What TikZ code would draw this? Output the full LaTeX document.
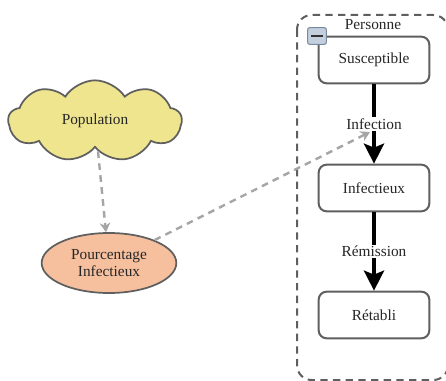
\documentclass[tikz,border=0pt]{standalone}
\usepackage{fontspec}
\setmainfont{Liberation Serif}
\usepackage{tikz}
\usetikzlibrary{arrows.meta}
\usetikzlibrary{shapes.geometric,shapes.symbols}
\usetikzlibrary{positioning,calc}

\definecolor{cloudfill}{RGB}{238,229,142}
\definecolor{pctfill}{RGB}{246,192,158}
\definecolor{edgegray}{RGB}{95,95,95}
\definecolor{linkgray}{RGB}{165,165,165}
\definecolor{iconfill}{RGB}{196,208,222}
\definecolor{iconedge}{RGB}{120,138,160}

\tikzset{
    txt/.style={font=\fontsize{11.5}{13.5}\selectfont, text=black!85},
    statebox/.style={txt, draw=edgegray, line width=1.5pt, rounded corners=6pt,
        fill=white, minimum width=83pt, minimum height=35pt},
    flow/.style={line width=3pt, -{Stealth[length=15pt,width=15pt,inset=3pt]}},
    link/.style={linkgray, line width=1.8pt, dash pattern=on 5pt off 4pt,
        -{Stealth[length=7pt,width=8pt]}},
}

\begin{document}
\begin{tikzpicture}[x=0.75pt, y=-0.75pt]
    \useasboundingbox (0,0) rectangle (446,381);

    % Draw the agent group
    \draw[edgegray, line width=1.5pt, dash pattern=on 5.5pt off 4pt, rounded corners=11pt]
        (297,15) rectangle (448,380);
    \node[txt] (grp) at (373,25) {Personne};

    % States
    \node[statebox] (sus) at (374,60) {Susceptible};
    \node[statebox] (inf) at (374,188) {Infectieux};
    \node[statebox] (ret) at (374,315) {Rétabli};

    % Collapse icon over the corner
    \node[draw=iconedge, line width=0.8pt, fill=iconfill, rounded corners=1.5pt,
        minimum width=14pt, minimum height=12.5pt, inner sep=0pt] (icon) at (317,36) {};
    \draw[black!80, line width=2pt] ([xshift=3pt]icon.west) -- ([xshift=-3pt]icon.east);

    % Transitions
    \draw[flow] (sus) -- (inf) node[midway, txt, fill=white, inner sep=1pt] (infLbl) {Infection};
    \draw[flow] (inf) -- (ret) node[midway, txt, fill=white, inner sep=1pt] (remLbl) {Rémission};

    % Population and percentage
    \node[cloud, cloud puffs=9, cloud puff arc=115, cloud ignores aspect, draw=edgegray,
        line width=1.3pt, fill=cloudfill, minimum width=130pt, minimum height=61pt,
        inner sep=0pt, txt] (pop) at (95,121) {Population};
    \node[ellipse, draw=edgegray, line width=1.3pt, fill=pctfill, minimum width=101pt,
        minimum height=45pt, inner sep=0pt, align=center, txt,
        font=\fontsize{11.5}{13}\selectfont] (pct) at (109,263) {Pourcentage\\Infectieux};

    % Links
    \coordinate (infpt) at (370,132);
    \draw[link] (pop) -- (pct);
    \draw[link] (pct) -- (infpt);

\end{tikzpicture}
\end{document}
